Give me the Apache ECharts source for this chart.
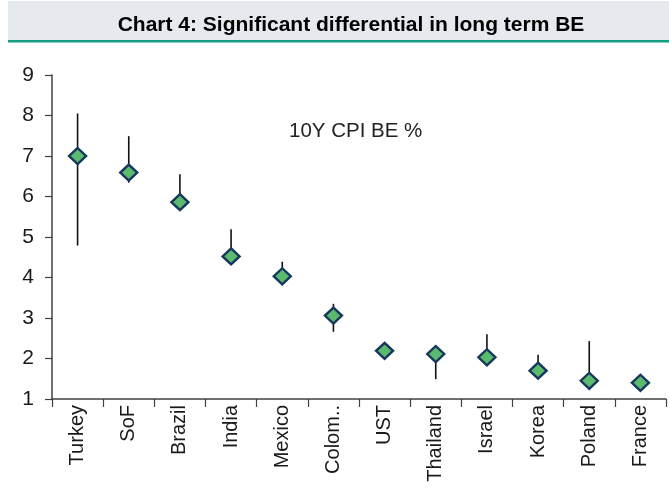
<!DOCTYPE html>
<html>
<head>
<meta charset="utf-8">
<script src="https://cdn.jsdelivr.net/npm/echarts@6/dist/echarts.min.js"></script>
<style>
  html, body { margin: 0; padding: 0; background: #fff; }
  #chart { width: 669px; height: 494px; }
</style>
</head>
<body>
<div id="chart"></div>
<script>
// 10Y CPI breakeven by market, with the range shown as a vertical whisker
const categories = ['Turkey', 'SoF', 'Brazil', 'India', 'Mexico', 'Colom..', 'UST', 'Thailand', 'Israel', 'Korea', 'Poland', 'France'];
const beCurrent  = [7.0, 6.59, 5.86, 4.52, 4.03, 3.06, 2.19, 2.11, 2.03, 1.70, 1.45, 1.40];
const rangeLow   = [4.79, 6.34, 5.86, 4.52, 3.81, 2.66, 2.19, 1.49, 2.03, 1.70, 1.30, 1.22];
const rangeHigh  = [8.05, 7.49, 6.55, 5.19, 4.39, 3.35, 2.19, 2.11, 2.60, 2.09, 2.43, 1.40];
const yTicks = { min: 1, max: 9, interval: 1 };

const whiskerData = categories.map((c, i) => [i, rangeLow[i], rangeHigh[i]]);

const chart = echarts.init(document.getElementById('chart'), null, { renderer: 'canvas' });

chart.setOption({
  animation: false,
  backgroundColor: '#ffffff',
  grid: { left: 52, right: 3, top: 75, bottom: 95, containLabel: false },
  graphic: [
    { type: 'rect', left: 8, top: 1, shape: { width: 661, height: 39 }, style: { fill: '#e6e9ed' }, silent: true },
    { type: 'rect', left: 8, top: 40, shape: { width: 661, height: 2.5 }, style: { fill: '#17a080' }, silent: true },
    { type: 'text', x: 351, y: 25, style: {
        text: 'Chart 4: Significant differential in long term BE',
        fill: '#000', font: 'bold 21px "Liberation Sans", Arial, sans-serif',
        align: 'center', verticalAlign: 'middle' } },
    { type: 'text', x: 289, y: 131, style: {
        text: '10Y CPI BE %', fill: '#222',
        font: '20.5px "Liberation Sans", Arial, sans-serif',
        align: 'left', verticalAlign: 'middle' } }
  ],
  xAxis: {
    type: 'category',
    data: categories,
    boundaryGap: true,
    axisLine: { lineStyle: { color: '#404040', width: 1.5 } },
    axisTick: { show: true, alignWithLabel: false, length: 8, lineStyle: { color: '#404040', width: 1.2 } },
    axisLabel: {
      rotate: 90, margin: 6, interval: 0, color: '#1a1a1a',
      fontFamily: '"Liberation Sans", Arial, sans-serif', fontSize: 20
    },
    splitLine: { show: false }
  },
  yAxis: {
    type: 'value',
    min: yTicks.min, max: yTicks.max, interval: yTicks.interval,
    axisLine: { show: true, lineStyle: { color: '#404040', width: 1.5 } },
    axisTick: { show: true, inside: false, length: 7, lineStyle: { color: '#404040', width: 1.2 } },
    axisLabel: {
      margin: 18, color: '#1a1a1a',
      fontFamily: '"Liberation Sans", Arial, sans-serif', fontSize: 21
    },
    splitLine: { show: false }
  },
  series: [
    {
      type: 'custom',
      name: 'range',
      z: 2,
      data: whiskerData,
      encode: { x: 0, y: [1, 2] },
      renderItem: function (params, api) {
        const lo = api.coord([api.value(0), api.value(1)]);
        const hi = api.coord([api.value(0), api.value(2)]);
        return {
          type: 'line',
          shape: { x1: lo[0], y1: lo[1], x2: hi[0], y2: hi[1] },
          style: { stroke: '#111', lineWidth: 1.6 }
        };
      }
    },
    {
      type: 'scatter',
      name: '10Y CPI BE %',
      z: 3,
      data: beCurrent,
      symbol: 'diamond',
      symbolSize: [17, 16],
      itemStyle: { color: '#5cba6e', borderColor: '#17375e', borderWidth: 2.4, opacity: 1 }
    }
  ]
});
</script>
</body>
</html>
